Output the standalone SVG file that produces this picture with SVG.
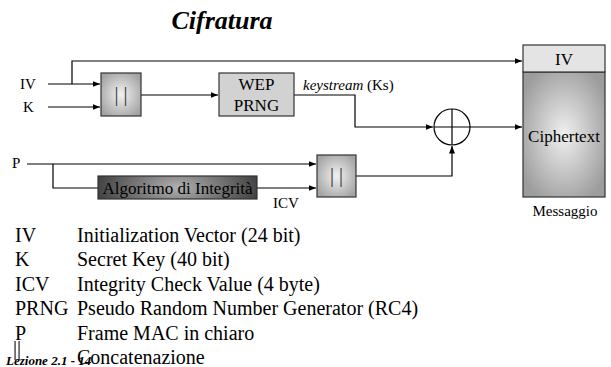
<svg xmlns="http://www.w3.org/2000/svg" width="611" height="367" viewBox="0 0 611 367">
<style>
text{font-family:"Liberation Serif","Times New Roman",serif;fill:#000}
.lbl{font-size:15px}
.leg{font-size:20px}
.bar{font-size:20px;fill:#333}
.ln{fill:none;stroke:#000;stroke-width:1.2}
.box{stroke:#333;stroke-width:1.2}
</style>
<defs>
<marker id="ar" markerWidth="8" markerHeight="7" refX="7.5" refY="3.5" orient="auto" markerUnits="userSpaceOnUse">
<path d="M0,0.5 L7.5,3.5 L0,6.5 Z" fill="#000"/>
</marker>
<radialGradient id="gLight" cx="0.5" cy="0.5" r="0.6">
<stop offset="0" stop-color="#f2f2f2"/>
<stop offset="1" stop-color="#a3a3a3"/>
</radialGradient>
<radialGradient id="gCipher" cx="0.5" cy="0.5" r="0.6">
<stop offset="0" stop-color="#f0f0f0"/>
<stop offset="1" stop-color="#9c9c9c"/>
</radialGradient>
<radialGradient id="gDark" cx="0.5" cy="0.5" r="0.55" gradientTransform="translate(0.5 0.5) scale(1 3) translate(-0.5 -0.5)">
<stop offset="0" stop-color="#b0b0b0"/>
<stop offset="1" stop-color="#3a3a3a"/>
</radialGradient>
</defs>

<text x="222" y="29" text-anchor="middle" style="font-size:26px;font-weight:bold;font-style:italic">Cifratura</text>

<g id="connectors">
<path class="ln" d="M48,84 H100" marker-end="url(#ar)"/>
<path class="ln" d="M72,84 V61 H522" marker-end="url(#ar)"/>
<path class="ln" d="M48,107 H100" marker-end="url(#ar)"/>
<path class="ln" d="M141,95 H218" marker-end="url(#ar)"/>
<path class="ln" d="M294,95 H355 V127 H433" marker-end="url(#ar)"/>
<path class="ln" d="M470,127 H522" marker-end="url(#ar)"/>
<path class="ln" d="M27,164 H316" marker-end="url(#ar)"/>
<path class="ln" d="M53,164 V188 H98"/>
<path class="ln" d="M257,188 H316" marker-end="url(#ar)"/>
<path class="ln" d="M356,176 H452 V146" marker-end="url(#ar)"/>
</g>

<g id="in-IV"><text class="lbl" x="20" y="89">IV</text></g>
<g id="in-K"><text class="lbl" x="23" y="112">K</text></g>
<g id="in-P"><text class="lbl" x="12" y="168">P</text></g>

<g id="concat1">
<rect class="box" x="101" y="73" width="40" height="43" fill="url(#gLight)"/>
<text class="bar" x="121" y="101" text-anchor="middle">| |</text>
</g>

<g id="wep-prng">
<rect class="box" x="219" y="73" width="75" height="43" fill="#d2d2d2"/>
<text x="256.5" y="90" text-anchor="middle" style="font-size:17px">WEP</text>
<text x="256.5" y="111" text-anchor="middle" style="font-size:17px">PRNG</text>
</g>

<g id="keystream-label">
<text x="303" y="90" style="font-size:15px"><tspan font-style="italic">keystream</tspan> (Ks)</text>
</g>

<g id="xor">
<circle cx="452" cy="127" r="18" fill="#fff" stroke="#000" stroke-width="1.2"/>
<path class="ln" d="M434,127 H470 M452,109 V145"/>
</g>

<g id="integrity">
<rect class="box" x="98" y="176" width="159" height="23" fill="url(#gDark)"/>
<text x="177.5" y="194" text-anchor="middle" style="font-size:17px">Algoritmo di Integrità</text>
</g>

<g id="icv-label"><text class="lbl" x="273" y="208">ICV</text></g>

<g id="concat2">
<rect class="box" x="317" y="155" width="39" height="42" fill="url(#gLight)"/>
<text class="bar" x="336.5" y="182" text-anchor="middle">| |</text>
</g>

<g id="messaggio">
<rect class="box" x="523" y="72" width="82" height="125" fill="url(#gCipher)"/>
<rect class="box" x="523" y="45" width="82" height="27" fill="#e4e4e4"/>
<text x="564" y="65" text-anchor="middle" style="font-size:17px">IV</text>
<text x="564" y="142" text-anchor="middle" style="font-size:17px">Ciphertext</text>
<text x="565" y="216" text-anchor="middle" style="font-size:15px">Messaggio</text>
</g>

<g id="legend">
<text class="leg" x="15" y="242">IV</text><text class="leg" x="77" y="242">Initialization Vector (24 bit)</text>
<text class="leg" x="15" y="266">K</text><text class="leg" x="77" y="266">Secret Key (40 bit)</text>
<text class="leg" x="15" y="291">ICV</text><text class="leg" x="77" y="291">Integrity Check Value (4 byte)</text>
<text class="leg" x="15" y="315">PRNG</text><text class="leg" x="77" y="315">Pseudo Random Number Generator (RC4)</text>
<text class="leg" x="15" y="340">P</text><text class="leg" x="77" y="340">Frame MAC in chiaro</text>
<text class="leg" x="13" y="355">||</text><text class="leg" x="77" y="364">Concatenazione</text>
</g>

<text x="6" y="365" style="font-size:13px;font-weight:bold;font-style:italic">Lezione 2.1 - 14</text>
</svg>
